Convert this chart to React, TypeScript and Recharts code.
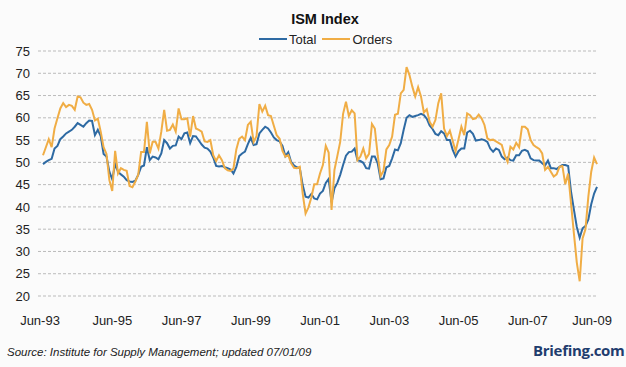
import React from 'react';
import { LineChart, Line, XAxis, YAxis, CartesianGrid } from 'recharts';

// monthly readings, Jun-93 .. Jun-09 (193 months)
const total = [
  49.6, 50.1, 50.5, 50.8, 53.1, 53.7, 55.2, 55.8, 56.5, 56.9, 57.3, 58.0,
  58.8, 58.4, 58.0, 58.8, 59.4, 59.3, 56.1, 57.3, 55.9, 51.9, 51.3, 47.9,
  46.2, 49.6, 47.9, 47.3, 46.8, 46.0, 45.7, 45.6, 45.9, 47.2, 49.0, 49.3,
  53.4, 50.5, 51.3, 51.1, 50.7, 52.0, 55.0, 54.3, 53.1, 53.7, 53.8, 55.8,
  55.2, 56.5, 56.7, 54.3, 55.9, 55.8, 54.9, 54.0, 53.3, 53.1, 52.4, 51.1,
  49.2, 49.1, 49.2, 48.9, 48.7, 48.4, 47.5, 49.0, 51.4, 52.0, 52.4, 54.1,
  55.5, 53.9, 54.1, 56.5, 57.3, 58.0, 57.6, 56.7, 55.6, 55.0, 54.7, 53.7,
  51.4, 52.3, 50.1, 49.3, 48.9, 48.7, 44.9, 42.3, 42.1, 42.9, 41.9, 41.7,
  43.0, 43.6, 45.4, 46.3, 41.0, 44.2, 45.4, 47.2, 49.4, 51.5, 52.3, 52.4,
  53.1, 50.5, 50.3, 49.9, 48.7, 48.6, 51.3, 51.3, 49.8, 46.2, 46.4, 48.9,
  49.2, 50.9, 52.9, 52.7, 54.3, 57.3, 60.0, 60.6, 60.2, 60.4, 60.6, 60.9,
  60.6, 59.8, 58.3, 57.5, 56.4, 56.1, 57.0, 56.5, 55.0, 55.0, 52.8, 51.3,
  52.5, 53.1, 53.1, 56.7, 57.1, 56.4, 54.9, 55.0, 55.2, 55.0, 54.6, 53.1,
  52.4, 53.1, 52.8, 51.3, 50.7, 51.1, 50.5, 50.4, 51.6, 51.6, 52.6, 52.8,
  52.5, 50.9, 50.5, 50.4, 50.4, 49.8, 49.3, 50.4, 48.7, 48.7, 48.5, 49.0,
  49.4, 49.4, 49.2, 43.4, 39.4, 35.5, 33.1, 35.2, 35.7, 37.2, 40.6, 43.0,
  44.5,
];

const orders = [
  51.6, 53.4, 55.2, 53.4, 57.6, 59.9, 62.1, 63.3, 62.4, 62.9, 62.7, 61.8,
  64.8, 64.6, 63.4, 62.9, 63.1, 61.8, 59.4, 59.8, 56.9, 53.4, 51.9, 46.0,
  43.6, 52.6, 47.5, 48.7, 48.3, 48.1, 44.7, 44.4, 45.7, 47.2, 52.3, 52.3,
  59.1, 52.0, 54.6, 54.6, 53.1, 56.9, 61.8, 57.1, 57.3, 58.5, 56.9, 62.1,
  59.7, 59.7, 59.9, 55.8, 60.4, 57.6, 57.3, 56.9, 54.7, 54.6, 55.0, 51.6,
  50.3, 51.6, 50.5, 48.7, 48.2, 48.1, 48.6, 52.9, 55.3, 55.8, 55.0, 58.4,
  59.1, 54.6, 55.9, 63.1, 61.4, 62.7, 60.6, 60.4, 58.2, 56.1, 55.3, 52.6,
  51.3, 51.6, 49.8, 48.8, 48.7, 49.0, 43.0, 38.5, 39.9, 42.1, 45.1, 45.1,
  47.5, 49.4, 53.7, 52.2, 39.3, 48.3, 51.4, 54.6, 60.9, 63.6, 60.4, 61.7,
  61.0, 50.5, 51.3, 53.1, 50.9, 51.9, 58.6, 57.6, 51.6, 46.9, 48.1, 52.9,
  53.9, 55.8, 60.7, 60.9, 65.5, 66.3, 71.4, 69.6, 67.0, 64.8, 66.9, 64.8,
  61.2, 61.9, 59.1, 58.0, 59.5, 63.3, 65.5, 57.6, 55.9, 57.1, 54.8, 52.5,
  55.2, 58.0, 56.1, 61.0, 60.6, 59.7, 59.9, 60.7, 59.9, 58.4, 55.4, 55.0,
  55.1, 54.7, 54.3, 53.9, 51.6, 50.1, 53.5, 52.9, 54.4, 53.4, 58.0, 58.0,
  57.4, 55.0, 53.9, 53.4, 53.0, 52.0, 48.3, 49.0, 47.9, 46.8, 47.3, 49.0,
  49.2, 45.1, 47.5, 40.8, 34.0, 27.5, 23.3, 32.9, 35.0, 42.3, 47.9, 51.1,
  49.6,
];

const xTicks = [0, 24, 48, 72, 96, 120, 144, 168, 192];
const xLabels = ['Jun-93', 'Jun-95', 'Jun-97', 'Jun-99', 'Jun-01', 'Jun-03', 'Jun-05', 'Jun-07', 'Jun-09'];
const yTicks = [20, 25, 30, 35, 40, 45, 50, 55, 60, 65, 70, 75];

const BLUE = '#2e6aa3';
const ORANGE = '#f0ad45';
const FONT = '"Liberation Sans", Arial, sans-serif';

const data = total.map((t, i) => ({ m: i, total: t, orders: orders[i] }));

function XTick(props: any) {
  const { x, y, payload, index } = props;
  // end labels are pulled inward a little, like in the original
  const dx = index === 0 ? -3 : index === xTicks.length - 1 ? -5 : 0;
  return (
    <text x={x + dx} y={y} dy="0.71em" textAnchor="middle" fill="#222" fontSize={13} fontFamily={FONT}>
      {xLabels[xTicks.indexOf(payload.value)]}
    </text>
  );
}

export default function App() {
  return (
    <div style={{ position: 'absolute', left: 0, top: 0, width: 626, height: 367, background: '#fbfbfb', fontFamily: FONT }}>
      <div style={{ position: 'absolute', left: 0, top: 11, width: 650, textAlign: 'center', fontSize: 14.5, fontWeight: 'bold', lineHeight: '16px', color: '#111' }}>
        ISM Index
      </div>
      <div style={{ position: 'absolute', left: 259, top: 31, height: 16, display: 'flex', alignItems: 'center', fontSize: 13, color: '#222' }}>
        <span style={{ display: 'inline-block', width: 28, height: 2, background: BLUE, marginRight: 2 }} />
        <span style={{ marginRight: 6 }}>Total</span>
        <span style={{ display: 'inline-block', width: 28, height: 2, background: ORANGE, marginRight: 2 }} />
        <span>Orders</span>
      </div>

      <LineChart width={626} height={367} data={data} margin={{ top: 51, right: 29, bottom: 41, left: 0 }}>
        <CartesianGrid vertical={false} stroke="#bbbbbb" strokeDasharray="3 2" />
        <XAxis
          dataKey="m"
          type="number"
          domain={[0, 192]}
          ticks={xTicks}
          tick={<XTick />}
          tickLine={false}
          axisLine={false}
          tickMargin={14}
          padding={{ left: 5, right: 0 }}
          height={30}
          interval={0}
        />
        <YAxis
          type="number"
          domain={[20, 75]}
          ticks={yTicks}
          tickLine={false}
          axisLine={false}
          width={38}
          interval={0}
          tick={{ fill: '#222', fontSize: 13, fontFamily: FONT }}
        />
        <Line type="linear" dataKey="total" stroke={BLUE} strokeWidth={2} dot={false} isAnimationActive={false} />
        <Line type="linear" dataKey="orders" stroke={ORANGE} strokeWidth={2} dot={false} isAnimationActive={false} />
      </LineChart>

      <div style={{ position: 'absolute', left: 7, top: 345, fontSize: 11.5, fontStyle: 'italic', lineHeight: '14px', color: '#222' }}>
        Source: Institute for Supply Management; updated 07/01/09
      </div>
      <div style={{ position: 'absolute', left: 533, top: 340, fontSize: 15, fontWeight: 'bold', lineHeight: '20px', color: '#1f3d6e', fontFamily: '"Open Sans", sans-serif', letterSpacing: -0.3 }}>
        Briefing.com
      </div>
    </div>
  );
}
